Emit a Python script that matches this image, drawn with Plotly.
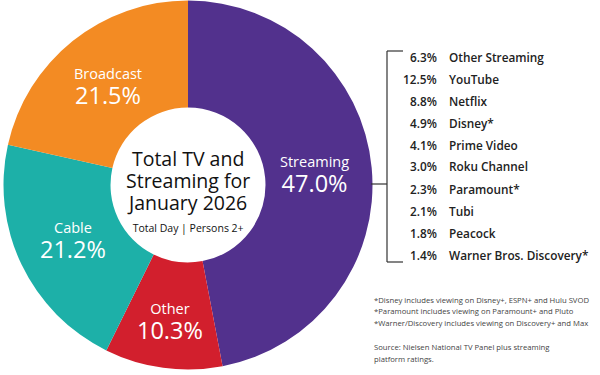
import math
import plotly.graph_objects as go

categories = ["Streaming", "Other", "Cable", "Broadcast"]
shares = [47.0, 10.3, 21.2, 21.5]
colors = ["#52318D", "#D21F2D", "#1DB0A8", "#F38B23"]

stream_names = ["Other Streaming", "YouTube", "Netflix", "Disney*", "Prime Video",
                "Roku Channel", "Paramount*", "Tubi", "Peacock", "Warner Bros. Discovery*"]
stream_shares = [6.3, 12.5, 8.8, 4.9, 4.1, 3.0, 2.3, 2.1, 1.8, 1.4]

footnotes = ["*Disney includes viewing on Disney+, ESPN+ and Hulu SVOD",
             "*Paramount includes viewing on Paramount+ and Pluto",
             "*Warner/Discovery includes viewing on Discovery+ and Max"]
source_lines = ["Source: Nielsen National TV Panel plus streaming", "platform ratings."]

title_lines = ["Total TV and", "Streaming for", "January 2026"]
subtitle = "Total Day | Persons 2+"

# label radius as fraction of outer radius (layout style, per slice)
label_radius = {"Streaming": 0.69, "Other": 0.74, "Cable": 0.69, "Broadcast": 0.69}

W, H = 600, 375
CX, CY, R = 188, 185, 184.5
FONT = "Open Sans"

def px(x):
    return x / W

def py(y):
    return 1 - y / H

def clamp(v):
    return min(1.0, max(0.0, v))

fig = go.Figure(go.Pie(
    labels=categories, values=shares, sort=False, direction="clockwise", rotation=0,
    hole=0.42, marker=dict(colors=colors, line=dict(width=0)),
    textinfo="none", hoverinfo="label+percent", showlegend=False,
    domain=dict(x=[clamp(px(CX - R)), clamp(px(CX + R))],
                y=[clamp(py(CY + R)), clamp(py(CY - R))]),
))

ann = []

def add(x, y, text, size, color, xanchor="center", weight=None):
    f = dict(family=FONT, size=size, color=color)
    if weight:
        f["weight"] = weight
    ann.append(dict(x=px(x), y=py(y), xref="paper", yref="paper", text=text,
                    xanchor=xanchor, yanchor="middle", showarrow=False, font=f))

def span(t, s):
    return f"<span style='font-size:{s}px'>{t}</span>"

cum = 0.0
total = sum(shares)
for name, v in zip(categories, shares):
    mid = (cum + v / 2) / total * 2 * math.pi
    cum += v
    lr = R * label_radius[name]
    lx = CX + lr * math.sin(mid)
    ly = CY - lr * math.cos(mid) + 2
    add(lx, ly, span(name, 14.5) + "<br>" + span(f"{v:.1f}%", 23.5), 19, "white")

center_text = "<br>".join(span(t, 19.5) for t in title_lines) + "<br>" + span(subtitle, 10.5)
add(CX, 190, center_text, 16.8, "#111")

for i, (n, v) in enumerate(zip(stream_names, stream_shares)):
    yy = 56.5 + 22 * i
    add(439, yy, f"{v:.1f}%", 11.8, "#222", xanchor="right", weight=600)
    add(447, yy, n, 11.8, "#222", xanchor="left", weight=600)

for i, t in enumerate(footnotes):
    add(372, 299.5 + 11.5 * i, t, 7.7, "#444", xanchor="left")
for i, t in enumerate(source_lines):
    add(372, 347 + 12 * i, t, 7.7, "#444", xanchor="left")

line = dict(color="#333", width=1.2)
shapes = [
    dict(type="line", xref="paper", yref="paper", x0=px(387), x1=px(387), y0=py(51), y1=py(262), line=line),
    dict(type="line", xref="paper", yref="paper", x0=px(387), x1=px(403), y0=py(51), y1=py(51), line=line),
    dict(type="line", xref="paper", yref="paper", x0=px(387), x1=px(403), y0=py(262), y1=py(262), line=line),
    dict(type="line", xref="paper", yref="paper", x0=px(371), x1=px(387), y0=py(184), y1=py(184), line=line),
]

fig.update_layout(width=W, height=H, margin=dict(l=0, r=0, t=0, b=0),
                  paper_bgcolor="white", plot_bgcolor="white",
                  annotations=ann, shapes=shapes, font=dict(family=FONT))
fig.write_html("out.html", config={"displayModeBar": False},
               post_script="document.body.style.margin='0';document.body.style.overflow='hidden';")
